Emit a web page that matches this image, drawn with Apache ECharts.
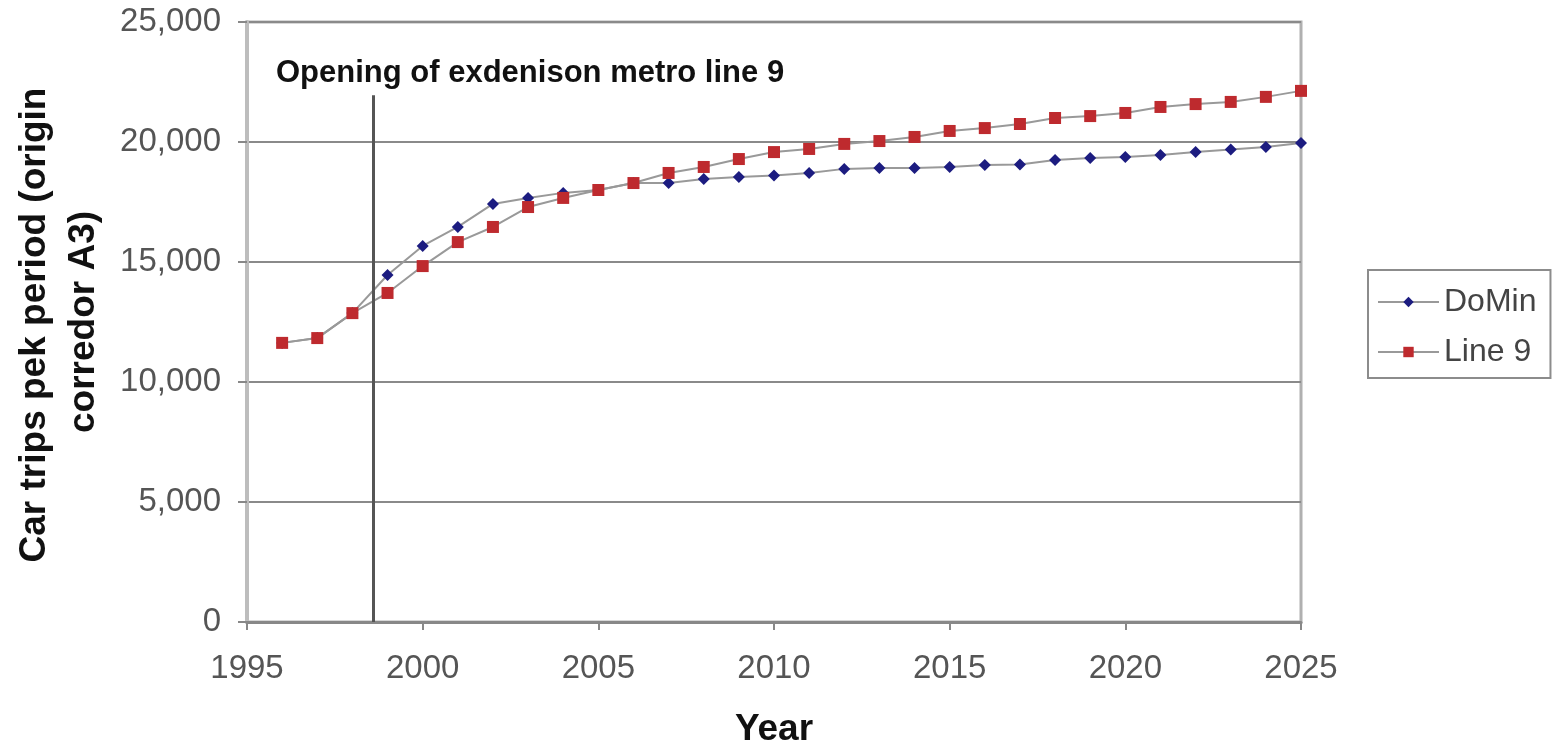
<!DOCTYPE html>
<html>
<head>
<meta charset="utf-8">
<style>
  html, body { margin: 0; padding: 0; background: #fff; }
  #chart { width: 1556px; height: 744px; }
</style>
<script src="https://cdn.jsdelivr.net/npm/echarts@6/dist/echarts.min.js"></script>
</head>
<body>
<div id="chart"></div>
<script>
// Car trips in the peak period, corridor A3, by scenario
const years = [1996, 1997, 1998, 1999, 2000, 2001, 2002, 2003, 2004, 2005,
               2006, 2007, 2008, 2009, 2010, 2011, 2012, 2013, 2014, 2015,
               2016, 2017, 2018, 2019, 2020, 2021, 2022, 2023, 2024, 2025];
const doMin = [11630, 11830, 12870, 14460, 15670, 16460, 17420, 17670, 17880, 18000,
               18290, 18290, 18460, 18540, 18600, 18710, 18880, 18920, 18920, 18960,
               19040, 19060, 19250, 19330, 19380, 19460, 19580, 19690, 19790, 19960];
const line9 = [11630, 11830, 12870, 13710, 14830, 15830, 16460, 17290, 17670, 18000,
               18290, 18710, 18960, 19290, 19580, 19710, 19920, 20040, 20210, 20460,
               20580, 20750, 21000, 21080, 21210, 21460, 21580, 21670, 21880, 22130];
const seriesNames = ['DoMin', 'Line 9'];
const openingYear = 1998.6;
const openingLineTop = 21950;
const openingText = 'Opening of exdenison metro line 9';
const yTitleLines = ['Car trips pek period (origin', 'corredor A3)'];
const xTitle = 'Year';

const FONT = '"Liberation Sans", Arial, sans-serif';
const chart = echarts.init(document.getElementById('chart'), null, { renderer: 'canvas' });

const pairs = arr => years.map((y, i) => [y, arr[i]]);

chart.setOption({
  animation: false,
  backgroundColor: '#ffffff',
  grid: {
    left: 247, right: 255, top: 22, bottom: 122,
    outerBoundsMode: 'none', containLabel: false,
    show: true, borderColor: '#b0b0b0', borderWidth: 3, backgroundColor: 'transparent'
  },
  xAxis: {
    type: 'value', min: 1995, max: 2025, interval: 5,
    name: xTitle, nameLocation: 'middle', nameGap: 89,
    nameTextStyle: { fontFamily: FONT, fontSize: 37, fontWeight: 'bold', color: '#111' },
    axisLine: { show: true, onZero: false, lineStyle: { color: '#888', width: 3 } },
    axisTick: { show: true, length: 8, lineStyle: { color: '#888', width: 2 } },
    axisLabel: { fontFamily: FONT, fontSize: 33, color: '#555', margin: 30,
                 formatter: v => String(v) },
    splitLine: { show: false }
  },
  yAxis: {
    type: 'value', min: 0, max: 25000, interval: 5000,
    axisLine: { show: true, lineStyle: { color: '#bdbdbd', width: 4 } },
    axisTick: { show: true, length: 9, lineStyle: { color: '#888', width: 2 } },
    axisLabel: { fontFamily: FONT, fontSize: 33, color: '#555', margin: 26,
                 formatter: v => v.toLocaleString('en-US') },
    splitLine: { show: true, lineStyle: { color: '#8a8a8a', width: 2 } }
  },
  legend: {
    orient: 'vertical', left: 1368, top: 270,
    data: seriesNames,
    backgroundColor: '#fff',
    borderColor: '#8c8c8c', borderWidth: 2, borderRadius: 0,
    padding: [16, 14, 10, 9],
    itemWidth: 61, itemHeight: 13, itemGap: 18,
    textStyle: { fontFamily: FONT, fontSize: 32, color: '#444', lineHeight: 32 }
  },
  series: [
    {
      name: seriesNames[0], type: 'line', data: pairs(doMin), z: 3,
      symbol: 'diamond', symbolSize: 12,
      itemStyle: { color: '#1c1c80' },
      lineStyle: { color: '#999', width: 2 },
      markLine: {
        silent: true, symbol: 'none', animation: false,
        lineStyle: { color: '#555', width: 3, type: 'solid' },
        label: { show: false },
        data: [[{ coord: [openingYear, 0] }, { coord: [openingYear, openingLineTop] }]]
      }
    },
    {
      name: seriesNames[1], type: 'line', data: pairs(line9), z: 4,
      symbol: 'rect', symbolSize: 12,
      itemStyle: { color: '#be2a2e' },
      lineStyle: { color: '#999', width: 2 }
    }
  ],
  graphic: [
    { type: 'text', left: 276, top: 58,
      style: { text: openingText, font: 'bold 31px ' + FONT, fill: '#111' } },
    { type: 'text', x: 35, y: 325, rotation: Math.PI / 2,
      style: { text: yTitleLines[0], font: 'bold 37px ' + FONT, fill: '#111',
               align: 'center', verticalAlign: 'middle' } },
    { type: 'text', x: 84, y: 322, rotation: Math.PI / 2,
      style: { text: yTitleLines[1], font: 'bold 37px ' + FONT, fill: '#111',
               align: 'center', verticalAlign: 'middle' } }
  ]
});
</script>
</body>
</html>
